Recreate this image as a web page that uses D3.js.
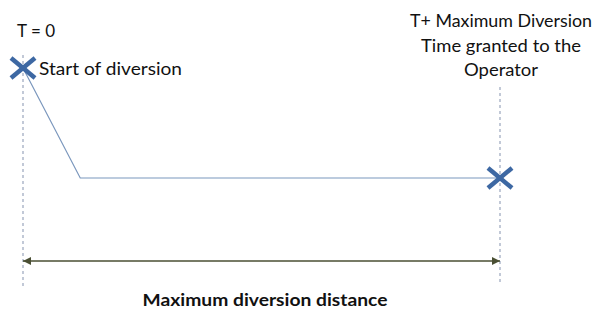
<!DOCTYPE html>
<html><head><meta charset="utf-8">
<script src="https://cdn.jsdelivr.net/npm/d3@7"></script>
<style>body{margin:0;background:#fff}svg{display:block}</style>
</head><body>
<svg id="c" width="599" height="309"></svg>
<script>
// Data
const profileTime = [0, 12, 100];          // % of maximum diversion time
const profileLevel = [100, 0, 0];          // relative level
const markerTime = [0, 100];
const markerLevel = [100, 0];
const leftLabels = ["T = 0", "Start of diversion"];
const rightLabels = ["T+ Maximum Diversion", "Time granted to the", "Operator"];
const distanceLabel = "Maximum diversion distance";

const svg = d3.select("#c");
const x = d3.scaleLinear().domain([0, 100]).range([23, 500]);
const y = d3.scaleLinear().domain([0, 100]).range([178, 68]);
const font = "Lato, 'Open Sans', sans-serif";

// dashed verticals
svg.append("line").attr("x1", x(0)).attr("x2", x(0)).attr("y1", 55).attr("y2", 287)
  .attr("stroke", "#9aa6bd").attr("stroke-width", 1.2).attr("stroke-dasharray", "3,3");
svg.append("line").attr("x1", x(100)).attr("x2", x(100)).attr("y1", 87).attr("y2", 285)
  .attr("stroke", "#9aa6bd").attr("stroke-width", 1.2).attr("stroke-dasharray", "3,3");

// profile line
const line = d3.line().x((d, i) => x(profileTime[i])).y((d, i) => y(profileLevel[i]));
svg.append("path").attr("d", line(profileTime)).attr("fill", "none")
  .attr("stroke", "#7b97bd").attr("stroke-width", 1.2);

// markers
markerTime.forEach((t, i) => {
  const cx = x(t), cy = y(markerLevel[i]);
  const g = svg.append("g").attr("stroke", "#3d68a3").attr("stroke-width", 4.5).attr("stroke-linecap", "butt");
  g.append("line").attr("x1", cx - 12).attr("y1", cy - 10).attr("x2", cx + 12).attr("y2", cy + 10);
  g.append("line").attr("x1", cx - 12).attr("y1", cy + 10).attr("x2", cx + 12).attr("y2", cy - 10);
});

// arrow
const defs = svg.append("defs");
["s", "e"].forEach(k => {
  defs.append("marker").attr("id", "m" + k).attr("viewBox", "0 0 10 10")
    .attr("refX", 10).attr("refY", 5).attr("markerWidth", 8).attr("markerHeight", 8)
    .attr("orient", k === "s" ? "auto-start-reverse" : "auto")
    .attr("markerUnits", "userSpaceOnUse")
    .append("path").attr("d", "M0,0L10,5L0,10Z").attr("fill", "#4a4f33");
});
svg.append("line").attr("x1", x(0)).attr("x2", x(100)).attr("y1", 261).attr("y2", 261)
  .attr("stroke", "#4a4f33").attr("stroke-width", 1.3)
  .attr("marker-start", "url(#ms)").attr("marker-end", "url(#me)");

// texts
function txt(s, xx, yy, size, len, anchor, weight) {
  svg.append("text").attr("x", xx).attr("y", yy).text(s)
    .attr("font-family", font).attr("font-size", size).attr("fill", "#111")
    .attr("text-anchor", anchor || "start").attr("font-weight", weight || "normal")
    .attr("textLength", len).attr("lengthAdjust", "spacingAndGlyphs");
}
txt(leftLabels[0], 17, 37, 18, 38);
txt(leftLabels[1], 39, 75, 18, 143);
const rightLens = [182, 160, 74];
rightLabels.forEach((t, i) => txt(t, 501, 27 + i * 24.5, 17.5, rightLens[i], "middle"));
txt(distanceLabel, 265, 306, 17.5, 245, "middle", "bold");
</script>
</body></html>
